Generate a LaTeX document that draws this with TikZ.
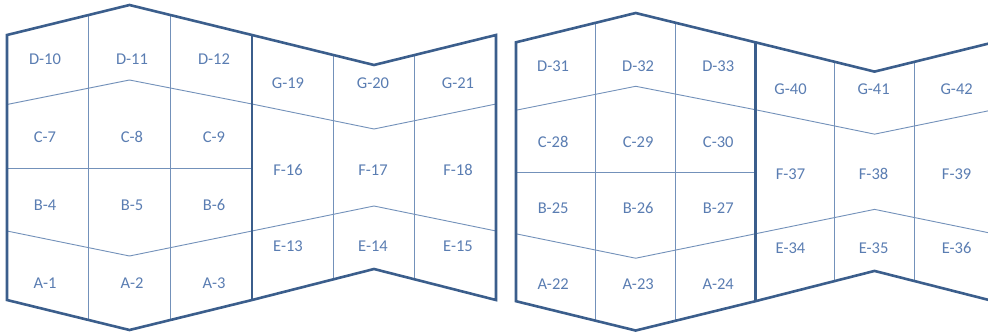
\documentclass[tikz,border=0pt]{standalone}
\usepackage{fontspec}
\setmainfont{Carlito}
\usetikzlibrary{calc}
\definecolor{frameblue}{HTML}{3B5E8C}
\definecolor{gridblue}{HTML}{7391BA}
\definecolor{labelblue}{HTML}{5A7DB2}
\tikzset{
  outerline/.style={draw=frameblue, line width=2.6pt, line join=miter},
  gridline/.style={draw=gridblue, line width=0.9pt},
  cellname/.style={text=labelblue, font=\fontsize{16.5}{18}\selectfont, inner sep=0pt},
}
\newcommand\building[2]{% #1 = name prefix, #2 = number base
  % corner points
  \coordinate (#1tl) at (7,35);
  \coordinate (#1ta) at (129.5,5);
  \coordinate (#1tm) at (252,35);
  \coordinate (#1tv) at (374,65);
  \coordinate (#1tr) at (496,35);
  \coordinate (#1br) at (496,300);
  \coordinate (#1bv) at (374,269);
  \coordinate (#1bm) at (252,300);
  \coordinate (#1ba) at (129.5,330);
  \coordinate (#1bl) at (7,300);
  % thin inner vertical lines
  \draw[gridline] ($(#1tl)!0.667!(#1ta)$) -- ($(#1bl)!0.667!(#1ba)$);
  \draw[gridline] ($(#1ta)!0.333!(#1tm)$) -- ($(#1ba)!0.333!(#1bm)$);
  \draw[gridline] ($(#1tm)!0.667!(#1tv)$) -- ($(#1bm)!0.667!(#1bv)$);
  \draw[gridline] ($(#1tv)!0.333!(#1tr)$) -- ($(#1bv)!0.333!(#1br)$);
  % thin row boundaries
  \coordinate (#1dcl) at (7,104.5);
  \coordinate (#1dcm) at (252,104);
  \coordinate (#1cbl) at (7,168);
  \coordinate (#1cbm) at (252,168);
  \coordinate (#1bal) at (7,231);
  \coordinate (#1bam) at (252,231);
  \coordinate (#1gfr) at (496,104);
  \coordinate (#1fer) at (496,231);
  \draw[gridline] (#1dcl) -- (129.5,80) -- (#1dcm) -- (374,129) -- (#1gfr);
  \draw[gridline] (#1cbl) -- (#1cbm);
  \draw[gridline] (#1bal) -- (129.5,256) -- (#1bam) -- (374,206) -- (#1fer);
  % outline
  \draw[outerline] (#1tl) -- (#1ta) -- (#1tm) -- (#1tv) -- (#1tr) -- (#1br)
     -- (#1bv) -- (#1bm) -- (#1ba) -- (#1bl) -- cycle;
  \draw[outerline] (#1tm) -- (#1bm);
  % labels
  \foreach \row/\rowy/\first in {A/283/1, B/205/4, C/137/7, D/59/10}{
    \foreach \colx [count=\k from 0] in {45,132,214}{
      \pgfmathtruncatemacro\num{#2+\first+\k}
      \node[cellname] (#1\row\num) at (\colx,\rowy) {\row-\num};
    }
  }
  \foreach \row/\rowy/\first in {E/246/13, F/170/16, G/83/19}{
    \foreach \colx [count=\k from 0] in {288,373,458}{
      \pgfmathtruncatemacro\num{#2+\first+\k}
      \node[cellname] (#1\row\num) at (\colx,\rowy) {\row-\num};
    }
  }
}
\begin{document}
\begin{tikzpicture}[x=1pt,y=-1pt]
  \useasboundingbox (0,0) rectangle (988,332);
  \clip (0,0) rectangle (988,332);
  \fill[white] (0,0) rectangle (988,332);
  \begin{scope}
    \building{p}{0}
  \end{scope}
  \begin{scope}[shift={(516,13)}, scale=0.977, shift={(-7,-5)}]
    \building{q}{21}
  \end{scope}
\end{tikzpicture}
\end{document}
